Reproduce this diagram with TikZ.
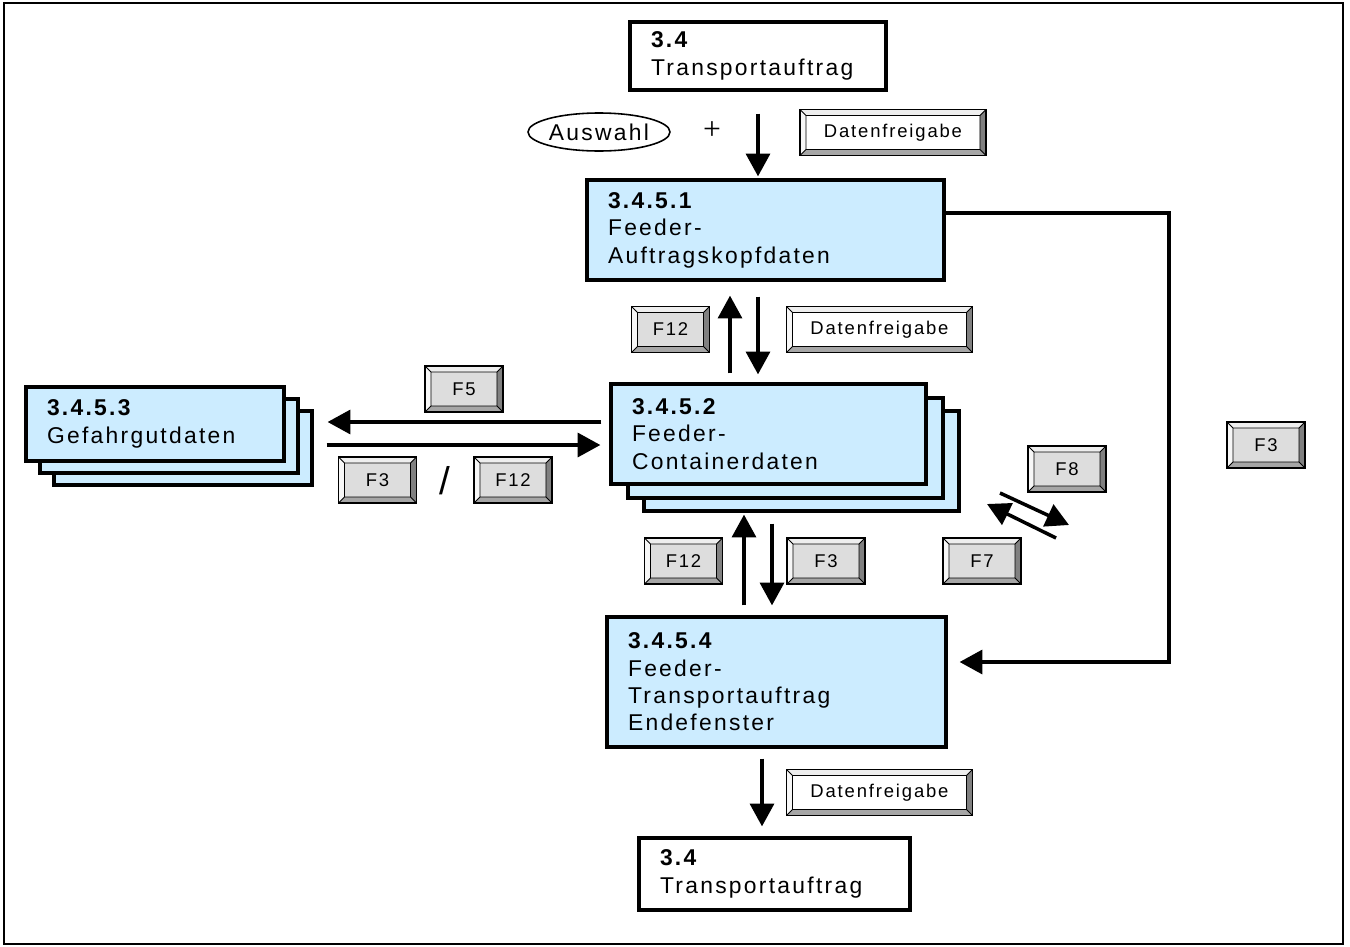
\documentclass[tikz,border=0pt]{standalone}
\usepackage{xcolor}
\usepackage{tikz}
\usetikzlibrary{positioning,shapes.geometric,arrows.meta}
\usepackage{fontspec}
\setmainfont{Liberation Sans}[LetterSpace=10]
\newfontfamily\plusfont{Liberation Serif}
\definecolor{boxblue}{HTML}{CCECFF}
\definecolor{keyface}{HTML}{DDDDDD}
\definecolor{keytop}{HTML}{EEEEEE}
\definecolor{keyleft}{HTML}{F7F7F7}
\definecolor{keyright}{HTML}{808080}
\definecolor{keybot}{HTML}{A6A6A6}
\newcommand{\boxfont}{\fontsize{13}{15.6}\selectfont}
\newcommand{\keyfont}{\fontsize{10.5}{12}\selectfont}

\begin{document}
\begin{tikzpicture}[
      x=0.02cm, y=-0.02cm,
      boxtxt/.style={draw, line width=1.8pt, inner xsep=0.42cm, inner ysep=0pt,
                     align=left, font=\boxfont},
      pbox/.style={boxtxt, fill=boxblue},
      wbox/.style={boxtxt, fill=white},
      layer/.style={draw, line width=1.8pt, fill=boxblue},
      keybase/.style={draw, line width=0.6pt, inner sep=0pt, minimum height=0.92cm, font=\keyfont,
        path picture={
          \path (path picture bounding box.south west) coordinate (kSW)
                (path picture bounding box.north east) coordinate (kNE)
                (kSW |- kNE) coordinate (kNW) (kNE |- kSW) coordinate (kSE)
                (kSW) ++(0.12cm,0.12cm) coordinate (iSW)
                (kNE) ++(-0.12cm,-0.12cm) coordinate (iNE)
                (kNW) ++(0.12cm,-0.12cm) coordinate (iNW)
                (kSE) ++(-0.12cm,0.12cm) coordinate (iSE);
          \fill[keytop] (kNW) -- (kNE) -- (iNE) -- (iNW) -- cycle;
          \fill[keyleft] (kNW) -- (iNW) -- (iSW) -- (kSW) -- cycle;
          \fill[keyright] (kNE) -- (kSE) -- (iSE) -- (iNE) -- cycle;
          \fill[keybot] (kSW) -- (kSE) -- (iSE) -- (iSW) -- cycle;
          \draw[line width=0.5pt] (iSW) rectangle (iNE) (kNW) -- (iNW) (kNE) -- (iNE)
                (kSW) -- (iSW) (kSE) -- (iSE);
        }},
      key/.style={keybase, fill=keyface, minimum width=1.56cm},
      wkey/.style={keybase, fill=white, minimum width=3.72cm},
      arr/.style={-{Triangle[length=13pt,width=13.5pt]}, line width=2.4pt}
    ]
    \useasboundingbox (0,0) rectangle (1350,947);
    \draw[line width=1.3pt] (4,3) rectangle (1343,944);

    \node[wbox, text width=4.28cm, minimum height=1.36cm] (t34) at (758,56) {\textbf{3.4}\\Transportauftrag};
    \node[ellipse, draw, line width=0.9pt, minimum width=2.84cm, minimum height=0.76cm,
          inner sep=0pt, font=\boxfont] (auswahl) at (599,132) {Auswahl};
    \node[font=\plusfont\fontsize{18}{20}\selectfont] (plus) at (712,131) {+};
    \node[wkey] (dfA) at (893,132.5) {Datenfreigabe};

    \node[pbox, text width=6.3cm, minimum height=2cm] (k4351) at (765.5,230) {\textbf{3.4.5.1}\\Feeder-\\Auftragskopfdaten};
    \node[key]  (f12a) at (670.5,329.5) {F12};
    \node[wkey] (dfB)  at (879.5,329.5) {Datenfreigabe};

    \node[layer, minimum width=6.3cm, minimum height=2cm] (k4352c) at (801.5,461) {};
    \node[layer, minimum width=6.3cm, minimum height=2cm] (k4352b) at (785.5,448) {};
    \node[pbox, text width=5.46cm, minimum height=2cm] (k4352) at (768.5,434) {\textbf{3.4.5.2}\\Feeder-\\Containerdaten};

    \node[layer, minimum width=5.16cm, minimum height=1.48cm] (k4353c) at (183,448) {};
    \node[layer, minimum width=5.16cm, minimum height=1.48cm] (k4353b) at (169,436) {};
    \node[pbox, text width=4.32cm, minimum height=1.48cm] (k4353) at (155,424) {\textbf{3.4.5.3}\\Gefahrgutdaten};

    \node[key] (f5)  at (464,389) {F5};
    \node[key] (f3b) at (377.5,480) {F3};
    \node[font=\fontsize{22}{26}\selectfont] (slash) at (445,481) {/};
    \node[key] (f12b) at (513,480) {F12};

    \node[key] (f8)  at (1067,469) {F8};
    \node[key] (f7)  at (982,561) {F7};
    \node[key] (f3r) at (1266,445) {F3};
    \node[key] (f12c) at (683.5,561) {F12};
    \node[key] (f3c)  at (826,561) {F3};

    \node[pbox, text width=5.94cm, minimum height=2.6cm] (k4354) at (776.5,682) {\textbf{3.4.5.4}\\Feeder-\\Transportauftrag\\Endefenster};
    \node[wkey] (dfC) at (879.5,792.5) {Datenfreigabe};
    \node[wbox, text width=4.58cm, minimum height=1.44cm] (b34) at (774.5,874) {\textbf{3.4}\\Transportauftrag};

    \coordinate (d1s) at (1000,493);
    \coordinate (d1e) at (1069,525);
    \coordinate (d2s) at (1056,538);
    \coordinate (d2e) at (987,504);

    \draw[arr, shorten <=0.44cm, shorten >=0.04cm] (t34.south -| 758,0) -- (k4351.north -| 758,0);
    \draw[arr, shorten <=0.18cm, shorten >=0.28cm] (k4352.north -| 730,0) -- (k4351.south -| 730,0);
    \draw[arr, shorten <=0.3cm, shorten >=0.16cm] (k4351.south -| 758,0) -- (k4352.north -| 758,0);
    \draw[arr, shorten <=0.16cm, shorten >=0.28cm] (k4352.west |- 0,422) -- (k4353c.east |- 0,422);
    \draw[arr, shorten <=0.26cm, shorten >=0.18cm] (k4353c.east |- 0,445) -- (k4352.west |- 0,445);
    \draw[arr, shorten <=0.2cm, shorten >=0.04cm] (k4354.north -| 744,0) -- (k4352c.south -| 744,0);
    \draw[arr, shorten <=0.22cm, shorten >=0.2cm] (k4352c.south -| 772,0) -- (k4354.north -| 772,0);
    \draw[arr, shorten <=0.2cm, shorten >=0.2cm] (k4354.south -| 762,0) -- (b34.north -| 762,0);
    \draw[arr, shorten >=0.24cm] (k4351.east |- 0,213) -- (1169,213) |- (k4354.east |- 0,662);
    \draw[arr, line width=2pt] (d1s) -- (d1e);
    \draw[arr, line width=2pt] (d2s) -- (d2e);
  \end{tikzpicture}
\end{document}
